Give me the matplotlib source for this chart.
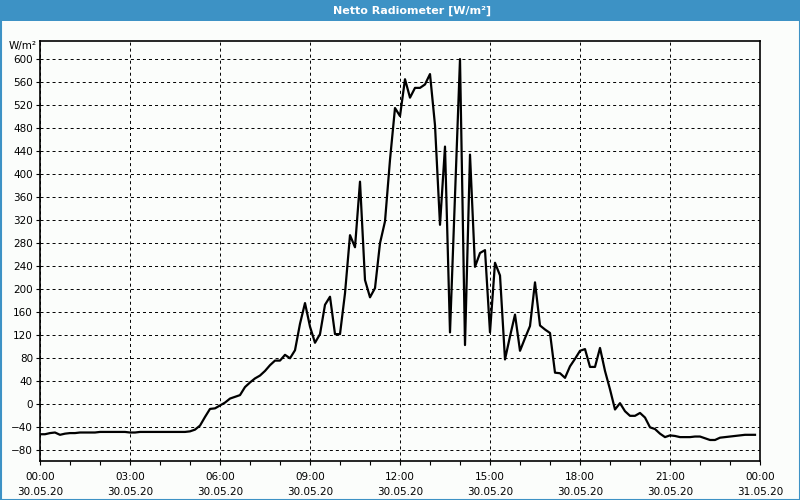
import pandas as pd
import matplotlib
matplotlib.use("Agg")
import matplotlib.pyplot as plt
import matplotlib.dates as mdates
from matplotlib.patches import Rectangle

# 10-minute samples of net radiation, 30.05.20 00:00 .. 23:50
start = "2020-05-30 00:00"
end = "2020-05-31 00:00"
values = [
    -52, -52, -50, -49, -53, -51, -50, -50, -49, -49,
    -49, -49, -48, -48, -48, -48, -48, -48, -49, -49,
    -48, -48, -48, -48, -48, -48, -48, -48, -48, -48,
    -47, -44, -37, -22, -8, -7, -2, 3, 10, 13,
    16, 30, 38, 45, 50, 58, 68, 76, 76, 86,
    80, 94, 140, 176, 135, 107, 122, 173, 187, 122,
    122, 193, 294, 273, 387, 216, 186, 202, 280, 318,
    425, 515, 501, 565, 533, 550, 550, 556, 574, 485,
    312, 448, 125, 360, 600, 103, 434, 239, 263, 268,
    125, 246, 224, 78, 118, 156, 93, 115, 136, 212,
    137, 130, 124, 55, 54, 46, 66, 79, 93, 96,
    65, 65, 98, 58, 26, -9, 2, -12, -20, -20,
    -15, -23, -40, -43, -51, -57, -54, -55, -57, -57,
    -57, -56, -56, -59, -62, -62, -58, -57, -56, -55,
    -54, -53, -53, -53,
]
y_ticks = list(range(-80, 601, 40))
title = "Netto Radiometer [W/m²]"
unit = "W/m²"

times = pd.date_range(start, periods=len(values), freq="10min")

bar_blue = "#3d92c5"
bg = "#fbfdfb"

fig = plt.figure(figsize=(8, 5), dpi=100, facecolor=bg)
ax = fig.add_axes([40 / 800, 1 - 460.7 / 500, 720 / 800, 420 / 500])
ax.set_facecolor(bg)

# title bar and window frame
fig.patches.append(Rectangle((0, 1 - 21 / 500), 1, 21 / 500, transform=fig.transFigure,
                             facecolor=bar_blue, edgecolor="none", zorder=0))
fig.patches.append(Rectangle((0.5 / 800, 0.5 / 500), 799 / 800, 499 / 500, transform=fig.transFigure,
                             facecolor="none", edgecolor=bar_blue, lw=1.5, zorder=0))
fig.text(412 / 800, 1 - 10.5 / 500, title, color="white", fontsize=8, fontweight="bold",
         ha="center", va="center")

ax.plot(times, values, color="black", lw=1.6)

ax.set_xlim(pd.Timestamp(start), pd.Timestamp(end))
ax.set_ylim(-98, 632)
ax.set_yticks(y_ticks)

ax.xaxis.set_major_locator(mdates.HourLocator(byhour=range(0, 24, 3)))
ax.xaxis.set_minor_locator(mdates.HourLocator())
ax.xaxis.set_major_formatter(mdates.DateFormatter("%H:%M\n%d.%m.%y"))

ax.tick_params(axis="both", which="both", direction="out", length=3, width=0.8,
               labelsize=7.5, colors="black")
ax.tick_params(axis="x", which="major", pad=5)
ax.tick_params(axis="y", pad=2)
for lbl in ax.get_xticklabels():
    lbl.set_linespacing(1.6)

ax.grid(True, which="major", color="black", lw=0.7, linestyle=(0, (3.1, 3.1)))

for sp in ax.spines.values():
    sp.set_linewidth(1.2)

fig.text(37 / 800, 1 - 45.7 / 500, unit, fontsize=7.5, ha="right", va="center")

fig.savefig("out.png", dpi=100, facecolor=bg)
